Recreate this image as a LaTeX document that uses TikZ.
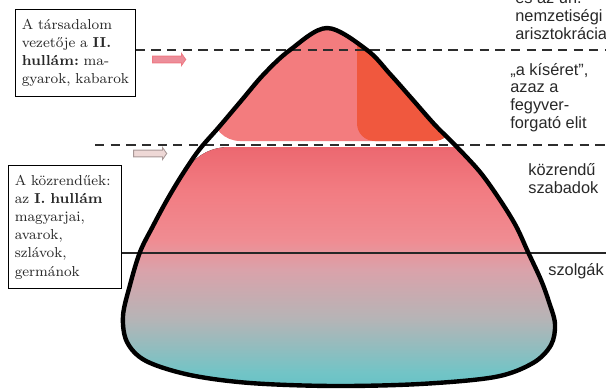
\documentclass[tikz,border=0pt]{standalone}
\usepackage{fontspec}
\newfontfamily\labelfont{Liberation Sans}
\usetikzlibrary{shapes.arrows}

\definecolor{inkgrey}{RGB}{40,40,40}
\definecolor{dashgrey}{RGB}{45,45,45}
\definecolor{toppink}{RGB}{243,124,126}
\definecolor{toporange}{RGB}{240,88,62}
\definecolor{bellred}{RGB}{236,104,112}
\definecolor{bellsalmon}{RGB}{242,124,130}
\definecolor{bellpink}{RGB}{240,140,146}
\definecolor{bellrose}{RGB}{218,162,170}
\definecolor{bellgrey}{RGB}{182,180,182}
\definecolor{bellaqua}{RGB}{114,196,198}
\definecolor{bellteal}{RGB}{100,194,198}
\definecolor{arrowpink}{RGB}{236,142,154}
\definecolor{arrowpale}{RGB}{238,216,214}

\pgfdeclareverticalshading{bellshade}{100bp}{color(0bp)=(bellteal); color(25bp)=(bellteal);
  color(29bp)=(bellaqua); color(40bp)=(bellgrey); color(50bp)=(bellrose); color(56bp)=(bellpink);
  color(66bp)=(bellsalmon); color(75bp)=(bellred); color(100bp)=(bellred)}

\newcommand\bellpath{plot[smooth cycle, tension=0.55] coordinates {
  (327,28) (367,50) (390,74) (413,100) (435,125) (455,145) (480,172) (500,200) (516,226)
  (528,252) (541,280) (549,302) (555,324) (551,345) (533,363) (495,377) (420,384) (333,386)
  (250,383) (190,375) (146,361) (127,342) (123,316) (130,285) (140,252) (153,226) (167,200)
  (182,175) (199,150) (219,127) (241,101) (264,74) (290,50)}}

\begin{document}
\begin{tikzpicture}[
  x=0.02cm, y=-0.02cm,
  font=\fontsize{8.2}{10.3}\selectfont,
  textbox/.style   = {rectangle, draw=black, line width=0.5pt, fill=white, anchor=north west,
                      align=left, inner xsep=3.6pt, inner ysep=5.6pt, text=inkgrey},
  sidelabel/.style = {anchor=base west, align=left, inner sep=0pt, text=inkgrey,
                      font=\labelfont\fontsize{9.3}{10}\selectfont},
  wavearrow/.style = {single arrow, single arrow head extend=1.5pt, single arrow tip angle=110,
                      minimum height=18.8pt, inner xsep=0pt, inner ysep=1.7pt, line width=0.5pt},
  levelline/.style = {draw=dashgrey, line width=1.7pt, dash pattern=on 5.3pt off 3.6pt},
  floorline/.style = {draw=black!85, line width=1.7pt},
  bellline/.style  = {draw=black, line width=2.5pt, line join=round}
]
\useasboundingbox (0,0) rectangle (606,389);

\begin{scope}
  \clip \bellpath;
  \fill[toppink, rounded corners=16pt]   (212,10) rectangle (452,141);
  \fill[toporange, rounded corners=10pt] (357,15) rectangle (452,141);
  \fill[shading=bellshade] (145,232) .. controls (180,172) and (195,148) .. (228,147)
    -- (580,147) -- (580,392) -- (100,392) -- (100,232) -- cycle;
\end{scope}

\node[textbox, text width=61pt] (tarsbox) at (15,9)
  {A~társadalom\\vezetője~a~\textbf{II.}\\\textbf{hullám:}~ma-\\gyarok,~kabarok};
\node[textbox, text width=57pt] (kozbox) at (8,165)
  {A~közrendűek:\\az~\textbf{I.~hullám}\\magyarjai,\\avarok,\\szlávok,\\germánok};

\draw[levelline] (tarsbox.east |- 0,50) -- (612,50);
\draw[levelline] (95,145) -- (612,145);
\draw[floorline] (kozbox.east |- 0,253) -- (612,253);

\draw[bellline] \bellpath;

\node[wavearrow, fill=arrowpink, draw=arrowpink!85!red] (arrowtop) at (168,59.5) {};
\node[wavearrow, fill=arrowpale, draw=arrowpale!70!black] (arrowmid) at (149,153.5) {};

\node[sidelabel] (nemzlabel)    at (515,39)  {és az ún.\\nemzetiségi\\arisztokrácia};
\node[sidelabel] (kiseretlabel) at (510,128) {„a kíséret”,\\azaz a\\fegyver-\\forgató elit};
\node[sidelabel] (kozlabel)     at (528,193) {közrendű\\szabadok};
\node[sidelabel] (szolglabel)   at (548,275) {szolgák};

\end{tikzpicture}
\end{document}
